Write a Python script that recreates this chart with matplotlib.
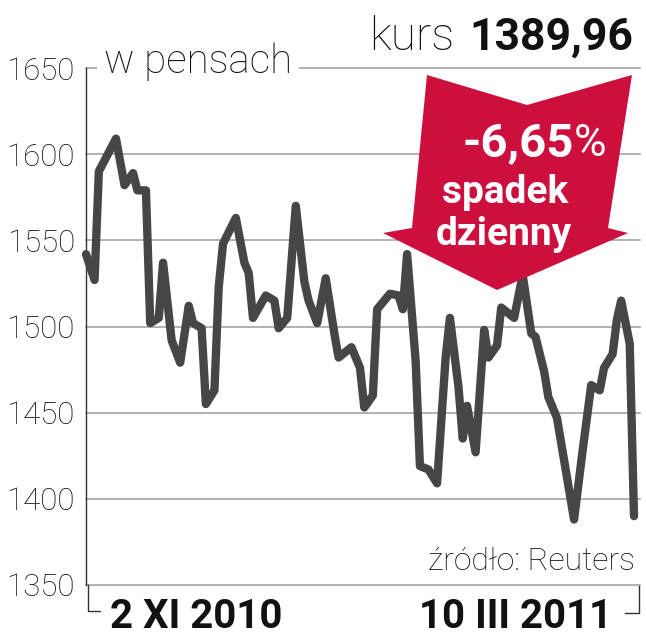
import matplotlib
matplotlib.use("Agg")
import matplotlib.pyplot as plt
import numpy as np
from matplotlib.patches import Polygon
from matplotlib.lines import Line2D

W, H = 646, 640

# days since 2 XI 2010 and price in pence
DAYS = [0, 2, 3, 7, 9, 11, 12, 14, 15, 17, 18, 20, 22, 24, 25, 27, 28, 30, 31, 32,
        35, 37, 38, 39, 42, 44, 45, 47, 49, 51, 52, 54, 56, 58, 59, 62, 64, 65, 67, 68,
        71, 73, 74, 75, 77, 78, 80, 82, 84, 85, 87, 88, 89, 91, 93, 94, 96, 97, 100, 102,
        104, 105, 107, 108, 110, 114, 116, 118, 120, 121, 123, 124, 125, 127, 128]
PRICE = [1542, 1527, 1590, 1609, 1582, 1589, 1579, 1579, 1502, 1505, 1537, 1492, 1479, 1512, 1502, 1499, 1455, 1463, 1523, 1548,
         1563, 1537, 1531, 1505, 1518, 1515, 1499, 1505, 1570, 1526, 1515, 1502, 1528, 1496, 1482, 1488, 1476, 1453, 1460, 1510,
         1519, 1518, 1510, 1542, 1480, 1419, 1417, 1409, 1482, 1505, 1465, 1435, 1454, 1427, 1498, 1482, 1489, 1511, 1505, 1530,
         1496, 1494, 1474, 1459, 1447, 1388, 1428, 1466, 1463, 1476, 1484, 1504, 1515, 1490, 1389.96]
YTICKS = [1350, 1400, 1450, 1500, 1550, 1600, 1650]

RED = "#cd0f3e"
LINE = "#464646"
GRID = "#9c9c9c"
LIGHT = ["Roboto", "DejaVu Sans"]
BOLD = ["Roboto", "DejaVu Sans"]


def px(x, y):
    return x / W, 1 - y / H


fig = plt.figure(figsize=(W / 100, H / 100), dpi=100, facecolor="white")
ax = fig.add_axes([86 / W, 1 - 585 / H, (640 - 86) / W, (585 - 68) / H])
ax.set_xlim(0, 129.4)
ax.set_ylim(1350, 1650)

for v in YTICKS:
    ax.axhline(v, color=GRID, lw=1.1, zorder=1, clip_on=False)
ax.plot(DAYS, PRICE, color=LINE, lw=6, solid_joinstyle="round", solid_capstyle="round", zorder=3, clip_on=False)

for side in ["top", "right", "bottom"]:
    ax.spines[side].set_visible(False)
ax.spines["left"].set_color("#333333")
ax.spines["left"].set_linewidth(1.0)
ax.set_xticks([])
ax.set_yticks(YTICKS)
ax.set_yticklabels([str(v) for v in YTICKS], fontsize=22.5, family=LIGHT, fontweight="light", color="#111111")
ax.tick_params(axis="y", length=0, pad=8)

# unit label sits on the 1650 line
fig.text(*px(104, 73), "w pensach", fontsize=29, family=LIGHT, fontweight="light", color="#111111",
         va="baseline", ha="left", bbox=dict(facecolor="white", edgecolor="none", pad=5))

# bottom brackets
for xs, ys in [([88, 88, 100], [585, 611, 611]), ([625, 639, 639], [613, 613, 586])]:
    fig.add_artist(Line2D([x / W for x in xs], [1 - y / H for y in ys], color="#333333", lw=1.0))

# title
fig.text(*px(633, 50), "1389,96", fontsize=32, family=BOLD, fontweight="bold", color="#111111", ha="right", va="baseline")
fig.text(*px(454, 50), "kurs", fontsize=33, family=LIGHT, fontweight="light", color="#111111", ha="right", va="baseline")

# red arrow
arrow = [(427, 75), (527, 105), (632, 75), (608, 228), (628, 233), (497, 290), (383, 233), (412, 228)]
fig.add_artist(Polygon([px(x, y) for x, y in arrow], closed=True, facecolor=RED, edgecolor="none", zorder=5))
fig.text(*px(574, 156), "-6,65", fontsize=34, family=BOLD, fontweight="bold", color="white", ha="right", va="baseline", zorder=6)
fig.text(*px(574, 156), "%", fontsize=32, family=LIGHT, color="white", ha="left", va="baseline", zorder=6)
fig.text(*px(505, 203), "spadek", fontsize=28, family=BOLD, fontweight="bold", color="white", ha="center", va="baseline", zorder=6)
fig.text(*px(504, 245), "dzienny", fontsize=28, family=BOLD, fontweight="bold", color="white", ha="center", va="baseline", zorder=6)

# source and dates
fig.text(*px(635, 570), "źródło: Reuters", fontsize=23, family=LIGHT, fontweight="light", color="#111111", ha="right", va="baseline")
fig.text(*px(110, 628), "2 XI 2010", fontsize=29, family=BOLD, fontweight="bold", color="#111111", ha="left", va="baseline")
fig.text(*px(612, 628), "10 III 2011", fontsize=29, family=BOLD, fontweight="bold", color="#111111", ha="right", va="baseline")

fig.savefig("out.png", dpi=100, facecolor="white")
